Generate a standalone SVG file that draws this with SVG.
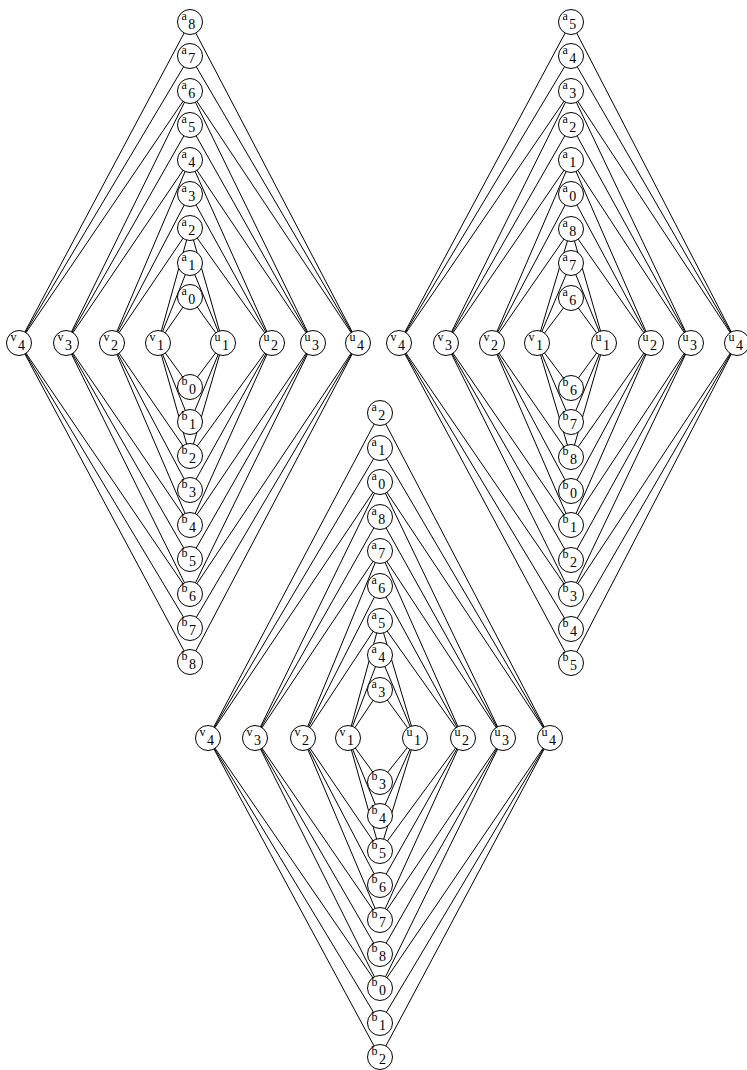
<svg xmlns="http://www.w3.org/2000/svg" width="747" height="1070" viewBox="0 0 747 1070">
<style>
.bg{fill:#fff}
#edges line{stroke:#000;stroke-width:1}
.n circle{fill:#fff;stroke:#000;stroke-width:1}
.n text{font-family:"Liberation Serif","Times New Roman",serif;font-size:12px;fill:#000}
.n tspan{font-size:14px}
</style>
<rect class="bg" width="747" height="1070"/>
<g id="edges">
<line x1="190" y1="22" x2="19" y2="343"/><line x1="190" y1="22" x2="358" y2="343"/>
<line x1="190" y1="56" x2="19" y2="343"/><line x1="190" y1="56" x2="358" y2="343"/>
<line x1="190" y1="91" x2="66" y2="343"/><line x1="190" y1="91" x2="19" y2="343"/><line x1="190" y1="91" x2="313" y2="343"/><line x1="190" y1="91" x2="358" y2="343"/>
<line x1="190" y1="125" x2="66" y2="343"/><line x1="190" y1="125" x2="313" y2="343"/>
<line x1="190" y1="160" x2="112" y2="343"/><line x1="190" y1="160" x2="66" y2="343"/><line x1="190" y1="160" x2="272" y2="343"/><line x1="190" y1="160" x2="313" y2="343"/>
<line x1="190" y1="194" x2="112" y2="343"/><line x1="190" y1="194" x2="272" y2="343"/>
<line x1="190" y1="228" x2="158" y2="343"/><line x1="190" y1="228" x2="112" y2="343"/><line x1="190" y1="228" x2="223" y2="343"/><line x1="190" y1="228" x2="272" y2="343"/>
<line x1="190" y1="263" x2="158" y2="343"/><line x1="190" y1="263" x2="223" y2="343"/>
<line x1="190" y1="297" x2="158" y2="343"/><line x1="190" y1="297" x2="223" y2="343"/>
<line x1="190" y1="387" x2="158" y2="343"/><line x1="190" y1="387" x2="223" y2="343"/>
<line x1="190" y1="422" x2="158" y2="343"/><line x1="190" y1="422" x2="223" y2="343"/>
<line x1="190" y1="456" x2="158" y2="343"/><line x1="190" y1="456" x2="112" y2="343"/><line x1="190" y1="456" x2="223" y2="343"/><line x1="190" y1="456" x2="272" y2="343"/>
<line x1="190" y1="490" x2="112" y2="343"/><line x1="190" y1="490" x2="272" y2="343"/>
<line x1="190" y1="525" x2="112" y2="343"/><line x1="190" y1="525" x2="66" y2="343"/><line x1="190" y1="525" x2="272" y2="343"/><line x1="190" y1="525" x2="313" y2="343"/>
<line x1="190" y1="559" x2="66" y2="343"/><line x1="190" y1="559" x2="313" y2="343"/>
<line x1="190" y1="594" x2="66" y2="343"/><line x1="190" y1="594" x2="19" y2="343"/><line x1="190" y1="594" x2="313" y2="343"/><line x1="190" y1="594" x2="358" y2="343"/>
<line x1="190" y1="628" x2="19" y2="343"/><line x1="190" y1="628" x2="358" y2="343"/>
<line x1="190" y1="662" x2="19" y2="343"/><line x1="190" y1="662" x2="358" y2="343"/>
<line x1="571" y1="22" x2="399" y2="343"/><line x1="571" y1="22" x2="737" y2="343"/>
<line x1="571" y1="56" x2="399" y2="343"/><line x1="571" y1="56" x2="737" y2="343"/>
<line x1="571" y1="91" x2="446" y2="343"/><line x1="571" y1="91" x2="399" y2="343"/><line x1="571" y1="91" x2="691" y2="343"/><line x1="571" y1="91" x2="737" y2="343"/>
<line x1="571" y1="125" x2="446" y2="343"/><line x1="571" y1="125" x2="691" y2="343"/>
<line x1="571" y1="160" x2="492" y2="343"/><line x1="571" y1="160" x2="446" y2="343"/><line x1="571" y1="160" x2="651" y2="343"/><line x1="571" y1="160" x2="691" y2="343"/>
<line x1="571" y1="194" x2="492" y2="343"/><line x1="571" y1="194" x2="651" y2="343"/>
<line x1="571" y1="229" x2="537" y2="343"/><line x1="571" y1="229" x2="492" y2="343"/><line x1="571" y1="229" x2="604" y2="343"/><line x1="571" y1="229" x2="651" y2="343"/>
<line x1="571" y1="263" x2="537" y2="343"/><line x1="571" y1="263" x2="604" y2="343"/>
<line x1="571" y1="298" x2="537" y2="343"/><line x1="571" y1="298" x2="604" y2="343"/>
<line x1="571" y1="388" x2="537" y2="343"/><line x1="571" y1="388" x2="604" y2="343"/>
<line x1="571" y1="422" x2="537" y2="343"/><line x1="571" y1="422" x2="604" y2="343"/>
<line x1="571" y1="457" x2="537" y2="343"/><line x1="571" y1="457" x2="492" y2="343"/><line x1="571" y1="457" x2="604" y2="343"/><line x1="571" y1="457" x2="651" y2="343"/>
<line x1="571" y1="491" x2="492" y2="343"/><line x1="571" y1="491" x2="651" y2="343"/>
<line x1="571" y1="525" x2="492" y2="343"/><line x1="571" y1="525" x2="446" y2="343"/><line x1="571" y1="525" x2="651" y2="343"/><line x1="571" y1="525" x2="691" y2="343"/>
<line x1="571" y1="560" x2="446" y2="343"/><line x1="571" y1="560" x2="691" y2="343"/>
<line x1="571" y1="594" x2="446" y2="343"/><line x1="571" y1="594" x2="399" y2="343"/><line x1="571" y1="594" x2="691" y2="343"/><line x1="571" y1="594" x2="737" y2="343"/>
<line x1="571" y1="629" x2="399" y2="343"/><line x1="571" y1="629" x2="737" y2="343"/>
<line x1="571" y1="663" x2="399" y2="343"/><line x1="571" y1="663" x2="737" y2="343"/>
<line x1="380" y1="413" x2="208" y2="738"/><line x1="380" y1="413" x2="550" y2="738"/>
<line x1="380" y1="448" x2="208" y2="738"/><line x1="380" y1="448" x2="550" y2="738"/>
<line x1="380" y1="482" x2="255" y2="738"/><line x1="380" y1="482" x2="208" y2="738"/><line x1="380" y1="482" x2="503" y2="738"/><line x1="380" y1="482" x2="550" y2="738"/>
<line x1="380" y1="517" x2="255" y2="738"/><line x1="380" y1="517" x2="503" y2="738"/>
<line x1="380" y1="551" x2="303" y2="738"/><line x1="380" y1="551" x2="255" y2="738"/><line x1="380" y1="551" x2="463" y2="738"/><line x1="380" y1="551" x2="503" y2="738"/>
<line x1="380" y1="586" x2="303" y2="738"/><line x1="380" y1="586" x2="463" y2="738"/>
<line x1="380" y1="621" x2="348" y2="738"/><line x1="380" y1="621" x2="303" y2="738"/><line x1="380" y1="621" x2="415" y2="738"/><line x1="380" y1="621" x2="463" y2="738"/>
<line x1="380" y1="655" x2="348" y2="738"/><line x1="380" y1="655" x2="415" y2="738"/>
<line x1="380" y1="690" x2="348" y2="738"/><line x1="380" y1="690" x2="415" y2="738"/>
<line x1="380" y1="782" x2="348" y2="738"/><line x1="380" y1="782" x2="415" y2="738"/>
<line x1="380" y1="816" x2="348" y2="738"/><line x1="380" y1="816" x2="415" y2="738"/>
<line x1="380" y1="851" x2="348" y2="738"/><line x1="380" y1="851" x2="303" y2="738"/><line x1="380" y1="851" x2="415" y2="738"/><line x1="380" y1="851" x2="463" y2="738"/>
<line x1="380" y1="885" x2="303" y2="738"/><line x1="380" y1="885" x2="463" y2="738"/>
<line x1="380" y1="920" x2="303" y2="738"/><line x1="380" y1="920" x2="255" y2="738"/><line x1="380" y1="920" x2="463" y2="738"/><line x1="380" y1="920" x2="503" y2="738"/>
<line x1="380" y1="954" x2="255" y2="738"/><line x1="380" y1="954" x2="503" y2="738"/>
<line x1="380" y1="988" x2="255" y2="738"/><line x1="380" y1="988" x2="208" y2="738"/><line x1="380" y1="988" x2="503" y2="738"/><line x1="380" y1="988" x2="550" y2="738"/>
<line x1="380" y1="1023" x2="208" y2="738"/><line x1="380" y1="1023" x2="550" y2="738"/>
<line x1="380" y1="1057" x2="208" y2="738"/><line x1="380" y1="1057" x2="550" y2="738"/>
</g>
<g id="L-a8" class="n"><circle cx="190" cy="22" r="12.5"/><text x="181.5" y="19.5">a<tspan dx="1.5" dy="9.5">8</tspan></text></g>
<g id="L-a7" class="n"><circle cx="190" cy="56" r="12.5"/><text x="181.5" y="53.5">a<tspan dx="1.5" dy="9.5">7</tspan></text></g>
<g id="L-a6" class="n"><circle cx="190" cy="91" r="12.5"/><text x="181.5" y="88.5">a<tspan dx="1.5" dy="9.5">6</tspan></text></g>
<g id="L-a5" class="n"><circle cx="190" cy="125" r="12.5"/><text x="181.5" y="122.5">a<tspan dx="1.5" dy="9.5">5</tspan></text></g>
<g id="L-a4" class="n"><circle cx="190" cy="160" r="12.5"/><text x="181.5" y="157.5">a<tspan dx="1.5" dy="9.5">4</tspan></text></g>
<g id="L-a3" class="n"><circle cx="190" cy="194" r="12.5"/><text x="181.5" y="191.5">a<tspan dx="1.5" dy="9.5">3</tspan></text></g>
<g id="L-a2" class="n"><circle cx="190" cy="228" r="12.5"/><text x="181.5" y="225.5">a<tspan dx="1.5" dy="9.5">2</tspan></text></g>
<g id="L-a1" class="n"><circle cx="190" cy="263" r="12.5"/><text x="181.5" y="260.5">a<tspan dx="1.5" dy="9.5">1</tspan></text></g>
<g id="L-a0" class="n"><circle cx="190" cy="297" r="12.5"/><text x="181.5" y="294.5">a<tspan dx="1.5" dy="9.5">0</tspan></text></g>
<g id="L-v4" class="n"><circle cx="19" cy="343" r="12.5"/><text x="10.5" y="340.5">v<tspan dx="1.5" dy="9.5">4</tspan></text></g>
<g id="L-v3" class="n"><circle cx="66" cy="343" r="12.5"/><text x="57.5" y="340.5">v<tspan dx="1.5" dy="9.5">3</tspan></text></g>
<g id="L-v2" class="n"><circle cx="112" cy="343" r="12.5"/><text x="103.5" y="340.5">v<tspan dx="1.5" dy="9.5">2</tspan></text></g>
<g id="L-v1" class="n"><circle cx="158" cy="343" r="12.5"/><text x="149.5" y="340.5">v<tspan dx="1.5" dy="9.5">1</tspan></text></g>
<g id="L-u1" class="n"><circle cx="223" cy="343" r="12.5"/><text x="214.5" y="340.5">u<tspan dx="1.5" dy="9.5">1</tspan></text></g>
<g id="L-u2" class="n"><circle cx="272" cy="343" r="12.5"/><text x="263.5" y="340.5">u<tspan dx="1.5" dy="9.5">2</tspan></text></g>
<g id="L-u3" class="n"><circle cx="313" cy="343" r="12.5"/><text x="304.5" y="340.5">u<tspan dx="1.5" dy="9.5">3</tspan></text></g>
<g id="L-u4" class="n"><circle cx="358" cy="343" r="12.5"/><text x="349.5" y="340.5">u<tspan dx="1.5" dy="9.5">4</tspan></text></g>
<g id="L-b0" class="n"><circle cx="190" cy="387" r="12.5"/><text x="181.5" y="384.5">b<tspan dx="1.5" dy="9.5">0</tspan></text></g>
<g id="L-b1" class="n"><circle cx="190" cy="422" r="12.5"/><text x="181.5" y="419.5">b<tspan dx="1.5" dy="9.5">1</tspan></text></g>
<g id="L-b2" class="n"><circle cx="190" cy="456" r="12.5"/><text x="181.5" y="453.5">b<tspan dx="1.5" dy="9.5">2</tspan></text></g>
<g id="L-b3" class="n"><circle cx="190" cy="490" r="12.5"/><text x="181.5" y="487.5">b<tspan dx="1.5" dy="9.5">3</tspan></text></g>
<g id="L-b4" class="n"><circle cx="190" cy="525" r="12.5"/><text x="181.5" y="522.5">b<tspan dx="1.5" dy="9.5">4</tspan></text></g>
<g id="L-b5" class="n"><circle cx="190" cy="559" r="12.5"/><text x="181.5" y="556.5">b<tspan dx="1.5" dy="9.5">5</tspan></text></g>
<g id="L-b6" class="n"><circle cx="190" cy="594" r="12.5"/><text x="181.5" y="591.5">b<tspan dx="1.5" dy="9.5">6</tspan></text></g>
<g id="L-b7" class="n"><circle cx="190" cy="628" r="12.5"/><text x="181.5" y="625.5">b<tspan dx="1.5" dy="9.5">7</tspan></text></g>
<g id="L-b8" class="n"><circle cx="190" cy="662" r="12.5"/><text x="181.5" y="659.5">b<tspan dx="1.5" dy="9.5">8</tspan></text></g>
<g id="R-a5" class="n"><circle cx="571" cy="22" r="12.5"/><text x="562.5" y="19.5">a<tspan dx="1.5" dy="9.5">5</tspan></text></g>
<g id="R-a4" class="n"><circle cx="571" cy="56" r="12.5"/><text x="562.5" y="53.5">a<tspan dx="1.5" dy="9.5">4</tspan></text></g>
<g id="R-a3" class="n"><circle cx="571" cy="91" r="12.5"/><text x="562.5" y="88.5">a<tspan dx="1.5" dy="9.5">3</tspan></text></g>
<g id="R-a2" class="n"><circle cx="571" cy="125" r="12.5"/><text x="562.5" y="122.5">a<tspan dx="1.5" dy="9.5">2</tspan></text></g>
<g id="R-a1" class="n"><circle cx="571" cy="160" r="12.5"/><text x="562.5" y="157.5">a<tspan dx="1.5" dy="9.5">1</tspan></text></g>
<g id="R-a0" class="n"><circle cx="571" cy="194" r="12.5"/><text x="562.5" y="191.5">a<tspan dx="1.5" dy="9.5">0</tspan></text></g>
<g id="R-a8" class="n"><circle cx="571" cy="229" r="12.5"/><text x="562.5" y="226.5">a<tspan dx="1.5" dy="9.5">8</tspan></text></g>
<g id="R-a7" class="n"><circle cx="571" cy="263" r="12.5"/><text x="562.5" y="260.5">a<tspan dx="1.5" dy="9.5">7</tspan></text></g>
<g id="R-a6" class="n"><circle cx="571" cy="298" r="12.5"/><text x="562.5" y="295.5">a<tspan dx="1.5" dy="9.5">6</tspan></text></g>
<g id="R-v4" class="n"><circle cx="399" cy="343" r="12.5"/><text x="390.5" y="340.5">v<tspan dx="1.5" dy="9.5">4</tspan></text></g>
<g id="R-v3" class="n"><circle cx="446" cy="343" r="12.5"/><text x="437.5" y="340.5">v<tspan dx="1.5" dy="9.5">3</tspan></text></g>
<g id="R-v2" class="n"><circle cx="492" cy="343" r="12.5"/><text x="483.5" y="340.5">v<tspan dx="1.5" dy="9.5">2</tspan></text></g>
<g id="R-v1" class="n"><circle cx="537" cy="343" r="12.5"/><text x="528.5" y="340.5">v<tspan dx="1.5" dy="9.5">1</tspan></text></g>
<g id="R-u1" class="n"><circle cx="604" cy="343" r="12.5"/><text x="595.5" y="340.5">u<tspan dx="1.5" dy="9.5">1</tspan></text></g>
<g id="R-u2" class="n"><circle cx="651" cy="343" r="12.5"/><text x="642.5" y="340.5">u<tspan dx="1.5" dy="9.5">2</tspan></text></g>
<g id="R-u3" class="n"><circle cx="691" cy="343" r="12.5"/><text x="682.5" y="340.5">u<tspan dx="1.5" dy="9.5">3</tspan></text></g>
<g id="R-u4" class="n"><circle cx="737" cy="343" r="12.5"/><text x="728.5" y="340.5">u<tspan dx="1.5" dy="9.5">4</tspan></text></g>
<g id="R-b6" class="n"><circle cx="571" cy="388" r="12.5"/><text x="562.5" y="385.5">b<tspan dx="1.5" dy="9.5">6</tspan></text></g>
<g id="R-b7" class="n"><circle cx="571" cy="422" r="12.5"/><text x="562.5" y="419.5">b<tspan dx="1.5" dy="9.5">7</tspan></text></g>
<g id="R-b8" class="n"><circle cx="571" cy="457" r="12.5"/><text x="562.5" y="454.5">b<tspan dx="1.5" dy="9.5">8</tspan></text></g>
<g id="R-b0" class="n"><circle cx="571" cy="491" r="12.5"/><text x="562.5" y="488.5">b<tspan dx="1.5" dy="9.5">0</tspan></text></g>
<g id="R-b1" class="n"><circle cx="571" cy="525" r="12.5"/><text x="562.5" y="522.5">b<tspan dx="1.5" dy="9.5">1</tspan></text></g>
<g id="R-b2" class="n"><circle cx="571" cy="560" r="12.5"/><text x="562.5" y="557.5">b<tspan dx="1.5" dy="9.5">2</tspan></text></g>
<g id="R-b3" class="n"><circle cx="571" cy="594" r="12.5"/><text x="562.5" y="591.5">b<tspan dx="1.5" dy="9.5">3</tspan></text></g>
<g id="R-b4" class="n"><circle cx="571" cy="629" r="12.5"/><text x="562.5" y="626.5">b<tspan dx="1.5" dy="9.5">4</tspan></text></g>
<g id="R-b5" class="n"><circle cx="571" cy="663" r="12.5"/><text x="562.5" y="660.5">b<tspan dx="1.5" dy="9.5">5</tspan></text></g>
<g id="B-a2" class="n"><circle cx="380" cy="413" r="12.5"/><text x="371.5" y="410.5">a<tspan dx="1.5" dy="9.5">2</tspan></text></g>
<g id="B-a1" class="n"><circle cx="380" cy="448" r="12.5"/><text x="371.5" y="445.5">a<tspan dx="1.5" dy="9.5">1</tspan></text></g>
<g id="B-a0" class="n"><circle cx="380" cy="482" r="12.5"/><text x="371.5" y="479.5">a<tspan dx="1.5" dy="9.5">0</tspan></text></g>
<g id="B-a8" class="n"><circle cx="380" cy="517" r="12.5"/><text x="371.5" y="514.5">a<tspan dx="1.5" dy="9.5">8</tspan></text></g>
<g id="B-a7" class="n"><circle cx="380" cy="551" r="12.5"/><text x="371.5" y="548.5">a<tspan dx="1.5" dy="9.5">7</tspan></text></g>
<g id="B-a6" class="n"><circle cx="380" cy="586" r="12.5"/><text x="371.5" y="583.5">a<tspan dx="1.5" dy="9.5">6</tspan></text></g>
<g id="B-a5" class="n"><circle cx="380" cy="621" r="12.5"/><text x="371.5" y="618.5">a<tspan dx="1.5" dy="9.5">5</tspan></text></g>
<g id="B-a4" class="n"><circle cx="380" cy="655" r="12.5"/><text x="371.5" y="652.5">a<tspan dx="1.5" dy="9.5">4</tspan></text></g>
<g id="B-a3" class="n"><circle cx="380" cy="690" r="12.5"/><text x="371.5" y="687.5">a<tspan dx="1.5" dy="9.5">3</tspan></text></g>
<g id="B-v4" class="n"><circle cx="208" cy="738" r="12.5"/><text x="199.5" y="735.5">v<tspan dx="1.5" dy="9.5">4</tspan></text></g>
<g id="B-v3" class="n"><circle cx="255" cy="738" r="12.5"/><text x="246.5" y="735.5">v<tspan dx="1.5" dy="9.5">3</tspan></text></g>
<g id="B-v2" class="n"><circle cx="303" cy="738" r="12.5"/><text x="294.5" y="735.5">v<tspan dx="1.5" dy="9.5">2</tspan></text></g>
<g id="B-v1" class="n"><circle cx="348" cy="738" r="12.5"/><text x="339.5" y="735.5">v<tspan dx="1.5" dy="9.5">1</tspan></text></g>
<g id="B-u1" class="n"><circle cx="415" cy="738" r="12.5"/><text x="406.5" y="735.5">u<tspan dx="1.5" dy="9.5">1</tspan></text></g>
<g id="B-u2" class="n"><circle cx="463" cy="738" r="12.5"/><text x="454.5" y="735.5">u<tspan dx="1.5" dy="9.5">2</tspan></text></g>
<g id="B-u3" class="n"><circle cx="503" cy="738" r="12.5"/><text x="494.5" y="735.5">u<tspan dx="1.5" dy="9.5">3</tspan></text></g>
<g id="B-u4" class="n"><circle cx="550" cy="738" r="12.5"/><text x="541.5" y="735.5">u<tspan dx="1.5" dy="9.5">4</tspan></text></g>
<g id="B-b3" class="n"><circle cx="380" cy="782" r="12.5"/><text x="371.5" y="779.5">b<tspan dx="1.5" dy="9.5">3</tspan></text></g>
<g id="B-b4" class="n"><circle cx="380" cy="816" r="12.5"/><text x="371.5" y="813.5">b<tspan dx="1.5" dy="9.5">4</tspan></text></g>
<g id="B-b5" class="n"><circle cx="380" cy="851" r="12.5"/><text x="371.5" y="848.5">b<tspan dx="1.5" dy="9.5">5</tspan></text></g>
<g id="B-b6" class="n"><circle cx="380" cy="885" r="12.5"/><text x="371.5" y="882.5">b<tspan dx="1.5" dy="9.5">6</tspan></text></g>
<g id="B-b7" class="n"><circle cx="380" cy="920" r="12.5"/><text x="371.5" y="917.5">b<tspan dx="1.5" dy="9.5">7</tspan></text></g>
<g id="B-b8" class="n"><circle cx="380" cy="954" r="12.5"/><text x="371.5" y="951.5">b<tspan dx="1.5" dy="9.5">8</tspan></text></g>
<g id="B-b0" class="n"><circle cx="380" cy="988" r="12.5"/><text x="371.5" y="985.5">b<tspan dx="1.5" dy="9.5">0</tspan></text></g>
<g id="B-b1" class="n"><circle cx="380" cy="1023" r="12.5"/><text x="371.5" y="1020.5">b<tspan dx="1.5" dy="9.5">1</tspan></text></g>
<g id="B-b2" class="n"><circle cx="380" cy="1057" r="12.5"/><text x="371.5" y="1054.5">b<tspan dx="1.5" dy="9.5">2</tspan></text></g>
</svg>
